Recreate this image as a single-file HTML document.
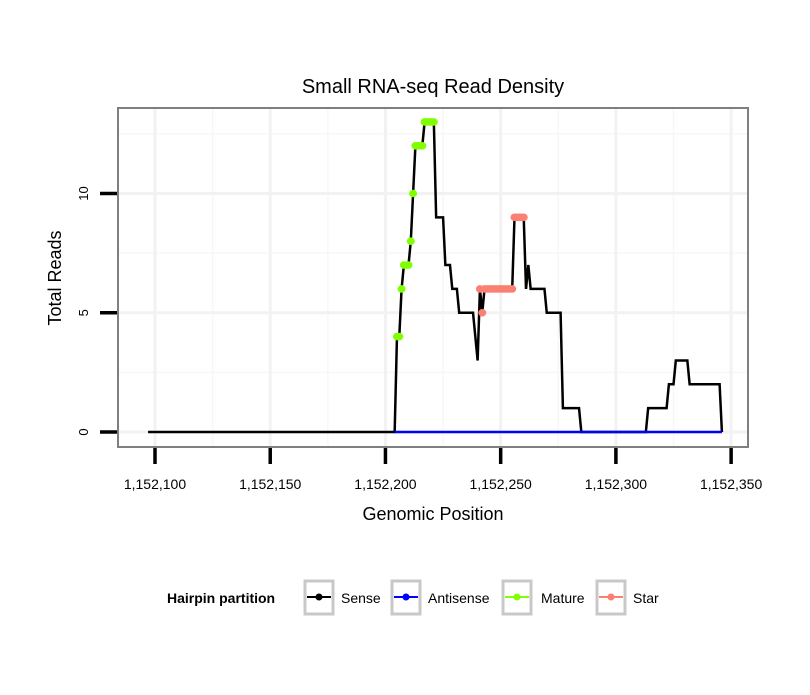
<!DOCTYPE html>
<html><head><meta charset="utf-8"><style>
body{margin:0;background:#fff;}
svg text{font-family:"Liberation Sans",sans-serif;}
</style></head><body>
<svg width="810" height="690" xmlns="http://www.w3.org/2000/svg">
<rect width="810" height="690" fill="#fff"/>
<text x="433" y="93" font-size="20" text-anchor="middle">Small RNA-seq Read Density</text>
<g id="grid"></g>
<g id="marks"></g>
<rect x="118" y="108" width="630" height="339" fill="none" stroke="#7f7f7f" stroke-width="2"/>
<g id="axes"></g>
<text x="433" y="520" font-size="18" text-anchor="middle">Genomic Position</text>
<text transform="translate(61,278) rotate(-90)" font-size="18" text-anchor="middle">Total Reads</text>
<g>
<text x="167" y="603" font-size="14" font-weight="bold">Hairpin partition</text>
<g><rect x="305" y="581" width="28" height="33" fill="#fff" stroke="#c8c8c8" stroke-width="3"/><line x1="307" y1="597" x2="331" y2="597" stroke="#000" stroke-width="2"/><circle cx="319" cy="597" r="3.5" fill="#000"/><text x="341" y="603" font-size="14">Sense</text></g>
<g><rect x="392" y="581" width="28" height="33" fill="#fff" stroke="#c8c8c8" stroke-width="3"/><line x1="394" y1="597" x2="418" y2="597" stroke="#0000ff" stroke-width="2"/><circle cx="406" cy="597" r="3.5" fill="#0000ff"/><text x="428" y="603" font-size="14">Antisense</text></g>
<g><rect x="503" y="581" width="28" height="33" fill="#fff" stroke="#c8c8c8" stroke-width="3"/><line x1="505" y1="597" x2="529" y2="597" stroke="#7fff00" stroke-width="2"/><circle cx="517" cy="597" r="3.5" fill="#7fff00"/><text x="541" y="603" font-size="14">Mature</text></g>
<g><rect x="597" y="581" width="28" height="33" fill="#fff" stroke="#c8c8c8" stroke-width="3"/><line x1="599" y1="597" x2="623" y2="597" stroke="#fa8072" stroke-width="2"/><circle cx="611" cy="597" r="3.5" fill="#fa8072"/><text x="633" y="603" font-size="14">Star</text></g>
</g>
</svg>
<script>
const xTicks=[1152100,1152150,1152200,1152250,1152300,1152350];
const xTickLabels=["1,152,100","1,152,150","1,152,200","1,152,250","1,152,300","1,152,350"];
const yTicks=[0,5,10];
const yTickLabels=["0","5","10"];
const startPos=1152097;
const senseValues=[
0,0,0,0,0,0,0,0,0,0,0,0,
0,0,0,0,0,0,0,0,0,0,0,0,
0,0,0,0,0,0,0,0,0,0,0,0,
0,0,0,0,0,0,0,0,0,0,0,0,
0,0,0,0,0,0,0,0,0,0,0,0,
0,0,0,0,0,0,0,0,0,0,0,0,
0,0,0,0,0,0,0,0,0,0,0,0,
0,0,0,0,0,0,0,0,0,0,0,0,
0,0,0,0,0,0,0,0,0,0,0,0,
4,4,6,7,7,7,8,10,12,12,12,12,13,13,13,13,13,
9,9,9,9,
7,7,7,
6,6,6,
5,5,5,5,5,5,
5,4,3,
6,5,6,6,6,6,6,6,6,6,6,6,6,6,6,9,9,9,9,9,
6,7,
6,6,6,6,6,6,6,
5,5,5,5,5,5,5,
1,1,1,1,1,1,1,1,
0,0,0,0,0,0,0,0,0,0,0,0,0,0,0,0,0,0,0,0,0,0,0,0,0,0,0,0,0,
1,1,1,1,1,1,1,1,1,
2,2,2,
3,3,3,3,3,3,
2,2,2,2,2,2,2,2,2,2,2,2,2,2,
0];
const antisenseStart=1152204;
const antisenseValues=[
0,0,0,0,0,0,0,0,0,0,0,0,0,
0,0,0,0,0,0,0,0,0,0,0,0,0,
0,0,0,0,0,0,0,0,0,0,0,0,0,
0,0,0,0,0,0,0,0,0,0,0,0,0,
0,0,0,0,0,0,0,0,0,0,0,0,0,
0,0,0,0,0,0,0,0,0,0,0,0,0,
0,0,0,0,0,0,0,0,0,0,0,0,0,
0,0,0,0,0,0,0,0,0,0,0,0,0,
0,0,0,0,0,0,0,0,0,0,0,0,0,
0,0,0,0,0,0,0,0,0,0,0,0,0,
0,0,0,0,0,0,0,0,0,0,0,0,0];
const matureStart=1152205;
const matureValues=[4,4,6,7,7,7,8,10,12,12,12,12,13,13,13,13,13];
const starStart=1152241;
const starValues=[6,5,6,6,6,6,6,6,6,6,6,6,6,6,6,9,9,9,9,9];

const X=p=>155+(p-1152100)*2.3045;
const Y=v=>432-v*23.85;
const NS="http://www.w3.org/2000/svg";
function mk(tag,attrs,parent){const e=document.createElementNS(NS,tag);for(const k in attrs)e.setAttribute(k,attrs[k]);parent.appendChild(e);return e;}
const grid=document.getElementById('grid'),marks=document.getElementById('marks'),axes=document.getElementById('axes');
mk('rect',{x:118,y:108,width:630,height:339,fill:'#fff'},grid);
[1152125,1152175,1152225,1152275,1152325].forEach(p=>{const l=mk('line',{x1:X(p),x2:X(p),y1:108,y2:447,stroke:'#f7f7f7','stroke-width':1.5},grid);});
[2.5,7.5,12.5].forEach(v=>{const l=mk('line',{x1:118,x2:748,y1:Y(v),y2:Y(v),stroke:'#f7f7f7','stroke-width':1.5},grid);});
xTicks.forEach(p=>{const l=mk('line',{x1:X(p),x2:X(p),y1:108,y2:447,stroke:'#f2f2f2','stroke-width':3},grid);});
yTicks.forEach(v=>{const l=mk('line',{x1:118,x2:748,y1:Y(v),y2:Y(v),stroke:'#f2f2f2','stroke-width':3},grid);});
function line(start,vals,color,name){const pts=vals.map((v,i)=>X(start+i).toFixed(2)+','+Y(v).toFixed(2)).join(' ');const l=mk('polyline',{points:pts,fill:'none',stroke:color,'stroke-width':2.5,'stroke-linejoin':'miter'},marks);}
line(startPos,senseValues,'#000','sense-line');
line(antisenseStart,antisenseValues,'#0000ff','antisense-line');
function dots(start,vals,color,name){vals.forEach((v,i)=>{const c=mk('ellipse',{cx:X(start+i),cy:Y(v),rx:4,ry:3.8,fill:color},marks);});}
dots(matureStart,matureValues,'#7fff00','mature-point');
dots(starStart,starValues,'#fa8072','star-point');
xTicks.forEach((p,i)=>{const t=mk('line',{x1:X(p),x2:X(p),y1:448,y2:464,stroke:'#000','stroke-width':3.5},axes);
const tx=mk('text',{x:X(p),y:489,'font-size':14,'text-anchor':'middle'},axes);tx.textContent=xTickLabels[i];});
yTicks.forEach((v,i)=>{const t=mk('line',{x1:100,x2:117,y1:Y(v),y2:Y(v),stroke:'#000','stroke-width':3.5},axes);
const tx=mk('text',{transform:`translate(88,${Y(v)}) rotate(-90)`,'font-size':13,'text-anchor':'middle'},axes);tx.textContent=yTickLabels[i];});
</script>
</body></html>
